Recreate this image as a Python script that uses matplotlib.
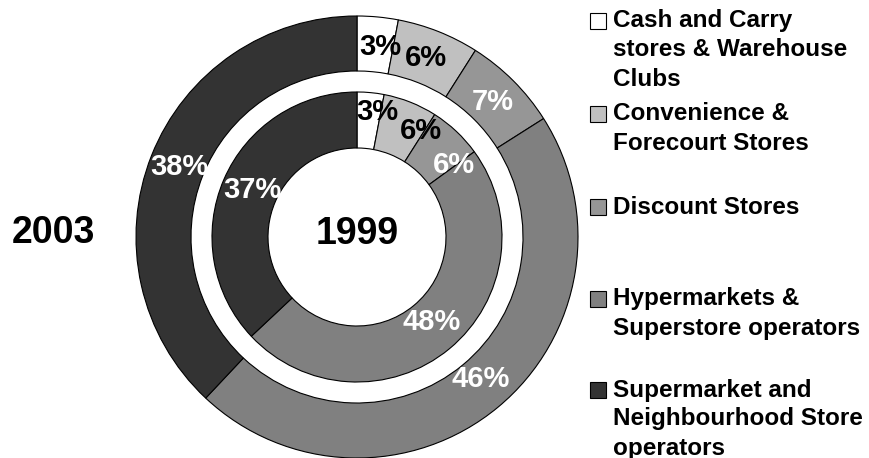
import numpy as np
from matplotlib import pyplot as plt
from matplotlib.patches import Rectangle

plt.rcParams['font.family'] = ['Liberation Sans', 'DejaVu Sans']
plt.rcParams['font.weight'] = 'bold'

categories = ['Cash and Carry\nstores & Warehouse\nClubs',
              'Convenience &\nForecourt Stores',
              'Discount Stores',
              'Hypermarkets &\nSuperstore operators',
              'Supermarket and\nNeighbourhood Store\noperators']
share_2003 = [3, 6, 7, 46, 38]
share_1999 = [3, 6, 6, 48, 37]

colors = ['#ffffff', '#c0c0c0', '#969696', '#808080', '#333333']
label_colors = ['black', 'black', 'white', 'white', 'white']

W, H = 869, 458
cx, cy = 357, 237
R = 221.0

fig = plt.figure(figsize=(W / 100, H / 100), dpi=100)
ax = fig.add_axes([0, 0, 1, 1])

outer_r, outer_w = 1.0, (221 - 166) / R
inner_r, inner_w = 145 / R, (145 - 89) / R
wp = dict(edgecolor='black', linewidth=0.8)

ax.pie(share_2003, radius=outer_r, colors=colors, startangle=90,
       counterclock=False, wedgeprops=dict(width=outer_w, **wp))
ax.pie(share_1999, radius=inner_r, colors=colors, startangle=90,
       counterclock=False, wedgeprops=dict(width=inner_w, **wp))

# pie() resets the limits, so set them afterwards
ax.set_xlim(-cx / R, (W - cx) / R)
ax.set_ylim(-(H - cy) / R, cy / R)
ax.set_aspect('equal')
ax.axis('off')

# percentage labels, placed at the wedge mid-angle (small tweaks like the original)
def put_labels(values, r_lab, ang_shift, r_shift):
    start = 90.0
    for v, c, da, dr in zip(values, label_colors, ang_shift, r_shift):
        mid = start - v * 3.6 / 2 + da
        start -= v * 3.6
        t = np.deg2rad(mid)
        rr = (r_lab + dr) / R
        ax.text(rr * np.cos(t), rr * np.sin(t), f'{v}%', color=c,
                fontsize=21, fontweight='bold', ha='center', va='center')

put_labels(share_2003, 193.5, [-1.5, 0.5, 0, 1.5, 0], [-2, -2, -2, -5, -2])
put_labels(share_1999, 117, [-4, -9.5, -10, 2, -0.8], [10, 7, 4, -4, -2])

ax.text(0, 3 / R, '1999', fontsize=27, fontweight='bold', ha='center', va='center')
ax.text((53 - cx) / R, 4 / R, '2003', fontsize=27, fontweight='bold',
        ha='center', va='center')

# legend drawn by hand, entries are irregularly spaced in the original
entry_y = [21, 114, 207, 299, 390]
line_h = 29
for lab, col, y0 in zip(categories, colors, entry_y):
    ax.add_patch(Rectangle((590 / W, 1 - (y0 + 8) / H), 16 / W, 16 / H,
                           transform=fig.transFigure, facecolor=col,
                           edgecolor='black', linewidth=0.8, clip_on=False))
    for i, line in enumerate(lab.split('\n')):
        fig.text(613 / W, 1 - (y0 + i * line_h) / H, line, fontsize=17.5,
                 fontweight='bold', ha='left', va='center')

plt.savefig('out.png', dpi=100)
